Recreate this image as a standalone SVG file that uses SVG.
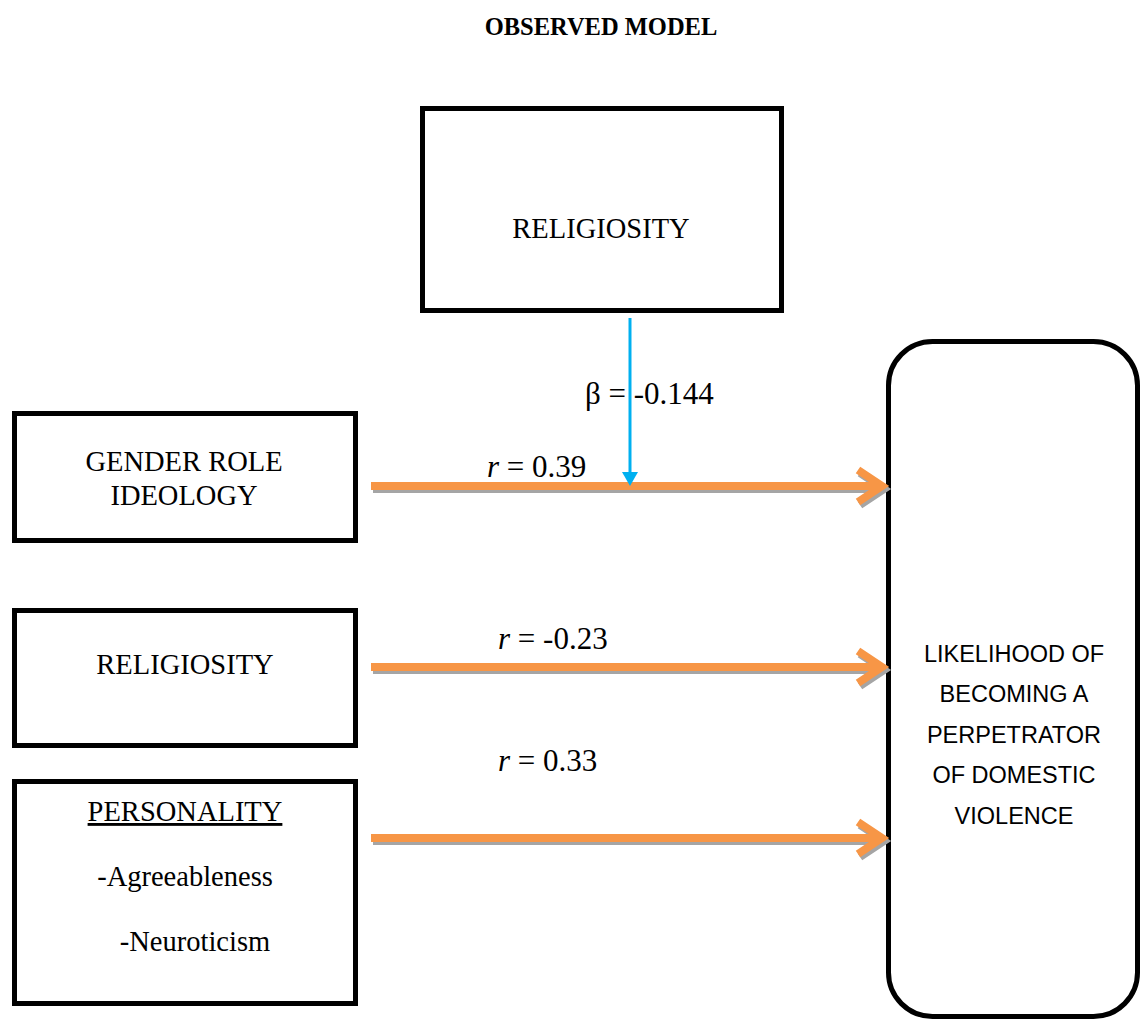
<svg xmlns="http://www.w3.org/2000/svg" width="1141" height="1020" viewBox="0 0 1141 1020">
<style>
.box{fill:#fff;stroke:#000;stroke-width:5}
.t{font-family:"Liberation Serif","Times New Roman",serif;font-size:28.5px;fill:#000;text-anchor:middle}
.lab{font-family:"Liberation Serif","Times New Roman",serif;font-size:31px;fill:#000}
.s{font-family:"Liberation Sans",Arial,sans-serif;font-size:23.5px;fill:#000;text-anchor:middle}
.arr{fill:none;stroke:#F79646;stroke-width:8;stroke-linejoin:miter}
.sh{fill:none;stroke:#A5A5A5;stroke-width:8}
</style>
<defs>
<g id="harrow">
<path class="sh" transform="translate(2,3)" d="M371,0 H880 M858,-16 L882,0 L858,16"/>
<path class="arr" d="M371,0 H880 M858,-16 L882,0 L858,16"/>
</g>
</defs>
<rect width="1141" height="1020" fill="#fff"/>
<text x="601" y="35" font-family="Liberation Serif,Times New Roman,serif" font-size="24.5px" font-weight="bold" text-anchor="middle">OBSERVED MODEL</text>
<g id="node-religiosity-top">
<rect class="box" x="422.5" y="108.5" width="359" height="202"/>
<text class="t" x="601" y="238">RELIGIOSITY</text>
</g>
<g id="node-gender">
<rect class="box" x="14.5" y="413.5" width="341" height="127"/>
<text class="t" x="184" y="471">GENDER ROLE</text>
<text class="t" x="184" y="505">IDEOLOGY</text>
</g>
<g id="node-religiosity">
<rect class="box" x="14.5" y="610.5" width="341" height="135"/>
<text class="t" x="185" y="674">RELIGIOSITY</text>
</g>
<g id="node-personality">
<rect class="box" x="14.5" y="781.5" width="341" height="222"/>
<text class="t" x="185" y="821" text-decoration="underline">PERSONALITY</text>
<text class="t" x="185" y="886">-Agreeableness</text>
<text class="t" x="195" y="951">-Neuroticism</text>
</g>
<g id="node-outcome">
<rect class="box" x="888.5" y="341.5" width="249" height="675" rx="44" ry="44"/>
<text class="s" x="1014" y="662">LIKELIHOOD OF</text>
<text class="s" x="1014" y="702">BECOMING A</text>
<text class="s" x="1014" y="743">PERPETRATOR</text>
<text class="s" x="1014" y="783">OF DOMESTIC</text>
<text class="s" x="1014" y="824">VIOLENCE</text>
</g>
<g id="connectors">
<use href="#harrow" transform="translate(0,486)"/>
<use href="#harrow" transform="translate(0,667)"/>
<use href="#harrow" transform="translate(0,838)"/>
<line x1="630" y1="318" x2="630" y2="474" stroke="#00B0F0" stroke-width="3"/>
<polygon points="622,472 638,472 630,486" fill="#00B0F0"/>
<text class="lab" x="585" y="404">β = -0.144</text>
<text class="lab" x="487" y="477"><tspan font-style="italic">r</tspan> = 0.39</text>
<text class="lab" x="498" y="649"><tspan font-style="italic">r</tspan> = -0.23</text>
<text class="lab" x="498" y="771"><tspan font-style="italic">r</tspan> = 0.33</text>
</g>
</svg>
